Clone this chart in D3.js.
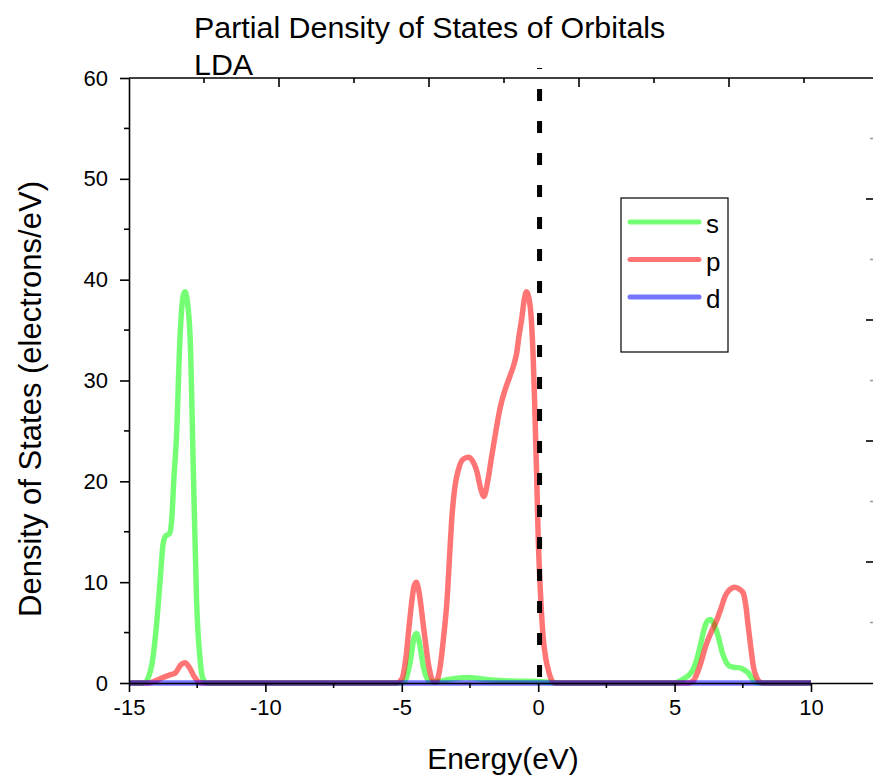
<!DOCTYPE html>
<html>
<head>
<meta charset="utf-8">
<script src="https://cdn.jsdelivr.net/npm/d3@7"></script>
<style>
  html, body { margin: 0; padding: 0; background: #fff; }
  svg { display: block; font-family: "Liberation Sans", Arial, sans-serif; }
</style>
</head>
<body>
<svg id="chart" width="873" height="776"></svg>
<script>
// ---- data ----
const energyS = [-15, -14.6, -14.4, -14.3, -14.15, -14.0, -13.85, -13.75, -13.65, -13.52,
  -13.44, -13.35, -13.26, -13.13, -13.02, -12.95, -12.87, -12.76, -12.64, -12.52,
  -12.4, -12.3, -12.15, -5.1, -4.88, -4.7, -4.55, -4.46, -4.37, -4.2,
  -4.0, -3.8, -3.3, -2.9, -2.6, -2.2, -1.7, -1.0, 0.0, 0.5,
  1.0, 5.0, 5.2, 5.44, 5.65, 5.81, 5.95, 6.11, 6.22, 6.32,
  6.45, 6.6, 6.75, 6.85, 7.0, 7.2, 7.4, 7.55, 7.7, 7.85,
  8.0, 8.2, 10];
const dosS = [0, 0, 0.1, 0.5, 2, 5.5, 10.5, 13.8, 14.6, 14.8,
  16, 20.5, 24.4, 34.3, 38.3, 38.8, 38, 34.3, 21, 7.9,
  2.5, 0.5, 0, 0, 0.2, 2, 4.5, 4.9, 4.2, 1.5,
  0.2, 0.1, 0.35, 0.5, 0.55, 0.45, 0.3, 0.2, 0.15, 0.05,
  0, 0, 0.2, 0.6, 1.2, 2.3, 3.8, 5.6, 6.2, 6.3,
  5.8, 4.6, 3, 2.3, 1.7, 1.55, 1.5, 1.3, 1.0, 0.4,
  0.05, 0, 0];

const energyP = [-15, -14.3, -14.1, -13.8, -13.5, -13.3, -13.1, -12.95, -12.8, -12.6,
  -12.45, -12.3, -5.2, -5.0, -4.85, -4.7, -4.55, -4.47, -4.38, -4.2,
  -4.0, -3.85, -3.75, -3.6, -3.45, -3.35, -3.25, -3.17, -3.05, -2.93,
  -2.75, -2.56, -2.4, -2.26, -2.1, -1.99, -1.85, -1.71, -1.55, -1.41,
  -1.2, -1.04, -0.9, -0.79, -0.7, -0.61, -0.5, -0.43, -0.35, -0.25,
  -0.18, -0.13, -0.06, 0.0, 0.1, 0.18, 0.28, 0.37, 0.47, 0.6,
  5.5, 5.68, 5.9, 6.17, 6.35, 6.54, 6.7, 6.85, 7.0, 7.21,
  7.38, 7.52, 7.62, 7.7, 7.8, 7.89, 8.0, 8.1, 8.25, 10];
const dosP = [0, 0, 0.15, 0.5, 0.8, 1.0, 1.8, 2.0, 1.6, 0.6,
  0.1, 0, 0, 0.4, 2.5, 6.5, 9.6, 10.0, 9.2, 5.5,
  1.5, 0.2, 0.1, 1.5, 5, 7.9, 12.5, 16.2, 19.5, 21.1,
  22.2, 22.4, 22, 21.1, 19.2, 18.5, 20, 22.4, 25, 27.1,
  29.2, 30.4, 31.5, 32.7, 34.5, 36, 38.2, 38.8, 38.3, 36,
  32, 27.8, 21, 14.5, 8, 4.6, 2.4, 1.3, 0.4, 0,
  0, 0.2, 1.5, 3.9, 5.1, 6.2, 7.4, 8.6, 9.2, 9.5,
  9.3, 8.9, 7.5, 5.6, 3.4, 1.6, 0.6, 0.15, 0, 0];

const energyD = [-15, -10, -5, 0, 5, 10];
const dosD = [0, 0, 0, 0, 0, 0];

const seriesNames = ["s", "p", "d"];
const seriesColors = ["#00ff00", "#ff0000", "#0000ff"];
const xTickValues = [-15, -10, -5, 0, 5, 10];
const xMinorValues = [-12.5, -7.5, -2.5, 2.5, 7.5];
const yTickValues = [0, 10, 20, 30, 40, 50, 60];
const yMinorValues = [5, 15, 25, 35, 45, 55];
const fermiEnergy = 0.05;
const titleLines = ["Partial Density of States of Orbitals", "LDA"];
const xTitle = "Energy(eV)";
const yTitle = "Density of States (electrons/eV)";

// ---- layout ----
const svg = d3.select("#chart");
const plotLeft = 129, plotRight = 873, plotTop = 78, plotBottom = 683;
const x = d3.scaleLinear().domain([-15, 12.273]).range([plotLeft, plotRight]);
const y = d3.scaleLinear().domain([0, 60]).range([plotBottom, plotTop]);
const topScale = d3.scaleLinear().domain([0, 9.92]).range([plotLeft, plotRight]);
const rightScale = d3.scaleLinear().domain([0, 10]).range([plotBottom, plotTop]);

const series = [
  d3.zip(energyS, dosS),
  d3.zip(energyP, dosP),
  d3.zip(energyD, dosD)
];

// curves
const line = d3.line().x(d => x(d[0])).y(d => y(d[1])).curve(d3.curveMonotoneX);
svg.append("g").selectAll("path").data(series).join("path")
  .attr("d", line)
  .attr("fill", "none")
  .attr("stroke", (d, i) => seriesColors[i])
  .attr("stroke-opacity", 0.54)
  .attr("stroke-width", 5.5)
  .attr("stroke-linejoin", "round");

// axes
const axisColor = "#000";
const fontTick = "22px";
const plainFormat = d => String(d);

// bottom
const gx = svg.append("g").attr("transform", `translate(0,${plotBottom})`)
  .call(d3.axisBottom(x).tickValues(xTickValues).tickFormat(plainFormat).tickSize(9).tickPadding(7).tickSizeOuter(0));
gx.select(".domain").attr("stroke-width", 1.6);
gx.selectAll(".tick line").attr("stroke-width", 1.6);
gx.selectAll("text").attr("font-size", fontTick).attr("font-family", "Liberation Sans, Arial, sans-serif").attr("fill", "#000");
svg.append("g").selectAll("line").data(xMinorValues).join("line")
  .attr("x1", d => x(d)).attr("x2", d => x(d))
  .attr("y1", plotBottom).attr("y2", plotBottom + 5)
  .attr("stroke", axisColor).attr("stroke-width", 1.6);

// left
const gy = svg.append("g").attr("transform", `translate(${plotLeft},0)`)
  .call(d3.axisLeft(y).tickValues(yTickValues).tickFormat(plainFormat).tickSize(9).tickPadding(12).tickSizeOuter(0));
gy.select(".domain").attr("stroke-width", 1.6);
gy.selectAll(".tick line").attr("stroke-width", 1.6);
gy.selectAll("text").attr("font-size", fontTick).attr("font-family", "Liberation Sans, Arial, sans-serif").attr("fill", "#000");
svg.append("g").selectAll("line").data(yMinorValues).join("line")
  .attr("x1", plotLeft - 5).attr("x2", plotLeft)
  .attr("y1", d => y(d)).attr("y2", d => y(d))
  .attr("stroke", axisColor).attr("stroke-width", 1.6);

// top axis line + ticks
svg.append("line").attr("x1", plotLeft).attr("x2", plotRight).attr("y1", plotTop).attr("y2", plotTop)
  .attr("stroke", axisColor).attr("stroke-width", 1.6);
svg.append("g").selectAll("line").data(d3.range(1, 10)).join("line")
  .attr("x1", d => topScale(d)).attr("x2", d => topScale(d))
  .attr("y1", plotTop).attr("y2", d => plotTop + (d % 2 === 0 ? 9 : 5))
  .attr("stroke", axisColor).attr("stroke-width", 1.6);

// right ticks
svg.append("g").selectAll("line").data(d3.range(1, 10)).join("line")
  .attr("x1", d => plotRight - (d % 2 === 0 ? 7 : 3)).attr("x2", plotRight)
  .attr("y1", d => rightScale(d)).attr("y2", d => rightScale(d))
  .attr("stroke", d => d % 2 === 0 ? axisColor : "#999").attr("stroke-width", 1.6);

// fermi dashed line
svg.append("line")
  .attr("x1", x(fermiEnergy)).attr("x2", x(fermiEnergy))
  .attr("y1", y(0)).attr("y2", y(61))
  .attr("stroke", "#000").attr("stroke-width", 5)
  .attr("stroke-dasharray", "12,20").attr("stroke-dashoffset", 26);

// titles
svg.append("g").selectAll("text").data(titleLines).join("text")
  .attr("x", 194).attr("y", (d, i) => 38 + i * 37)
  .attr("font-size", "30.4px").attr("fill", "#000")
  .text(d => d);

svg.append("text")
  .attr("x", (plotLeft + plotRight) / 2 + 2).attr("y", 769)
  .attr("text-anchor", "middle").attr("font-size", "30px").attr("fill", "#000")
  .text(xTitle);

svg.append("text")
  .attr("transform", "translate(41,399) rotate(-90)")
  .attr("text-anchor", "middle").attr("font-size", "31px").attr("fill", "#000")
  .text(yTitle);

// legend
const lg = svg.append("g");
lg.append("rect").attr("x", 621).attr("y", 198).attr("width", 107).attr("height", 154)
  .attr("fill", "#fff").attr("stroke", "#000").attr("stroke-width", 1.2);
const rows = lg.selectAll("g.row").data(seriesNames).join("g").attr("class", "row")
  .attr("transform", (d, i) => `translate(0,${222 + i * 37.5})`);
rows.append("line").attr("x1", 630).attr("x2", 699).attr("y1", 0).attr("y2", 0)
  .attr("stroke", (d, i) => seriesColors[i]).attr("stroke-opacity", 0.54)
  .attr("stroke-width", 5).attr("stroke-linecap", "round");
rows.append("text").attr("x", 706).attr("y", 11).attr("font-size", "26px").attr("fill", "#000")
  .text(d => d);
</script>
</body>
</html>
